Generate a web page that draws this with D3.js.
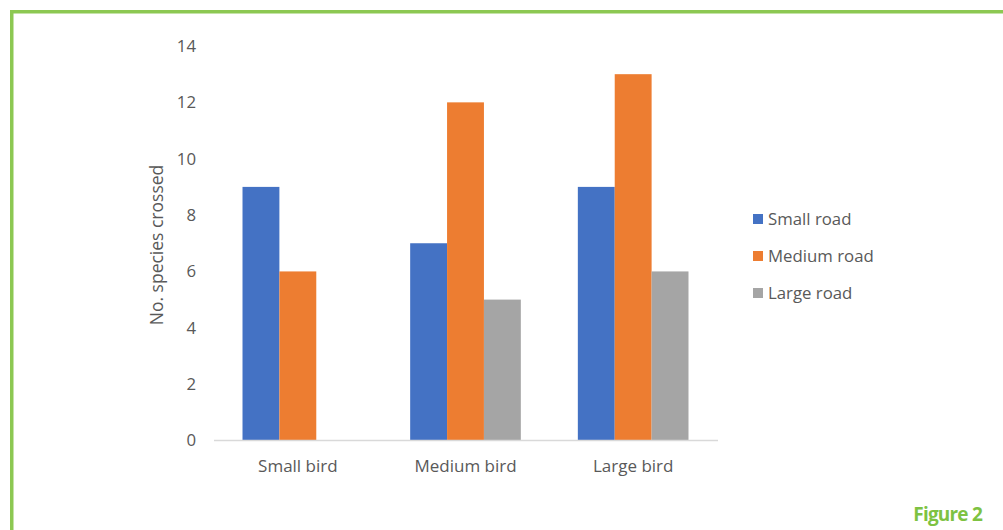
<!DOCTYPE html>
<html>
<head>
<meta charset="utf-8">
<script src="https://cdn.jsdelivr.net/npm/d3@7"></script>
<style>
  body { margin: 0; background: #fff; }
  svg { display: block; }
</style>
</head>
<body>
<div id="chart"></div>
<script>
// chart data
const categories = ["Small bird", "Medium bird", "Large bird"];
const seriesNames = ["Small road", "Medium road", "Large road"];
const smallRoad = [9, 7, 9];
const mediumRoad = [6, 12, 13];
const largeRoad = [0, 5, 6];
const yTicks = [0, 2, 4, 6, 8, 10, 12, 14];

const colors = ["#4472c4", "#ed7d31", "#a5a5a5"];
const width = 1003, height = 530;
const font = "'Open Sans', 'Noto Sans', sans-serif";

let svg = d3.select("#chart").append("svg")
    .attr("width", width)
    .attr("height", height);

// green frame (top and left only)
svg.append("rect").attr("x", 10).attr("y", 10).attr("width", width).attr("height", 3.5).attr("fill", "#8cc852");
svg.append("rect").attr("x", 10).attr("y", 10).attr("width", 3.5).attr("height", height).attr("fill", "#8cc852");

let x0 = d3.scaleBand()
    .domain(categories)
    .range([214, 717])
    .paddingInner(0.34)
    .paddingOuter(0.17);

let x1 = d3.scaleBand()
    .domain(seriesNames)
    .range([0, x0.bandwidth()]);

let y = d3.scaleLinear()
    .domain([0, 14])
    .range([440.5, 46]);

let rows = categories.map((c, i) => ({
    category: c,
    values: [smallRoad[i], mediumRoad[i], largeRoad[i]]
}));

// bars
let groups = svg.append("g")
    .selectAll("g")
    .data(rows)
    .enter()
    .append("g")
    .attr("transform", d => `translate(${x0(d.category)},0)`);

groups.selectAll("rect")
    .data(d => d.values.map((v, k) => ({series: seriesNames[k], value: v, k: k})))
    .enter()
    .append("rect")
    .attr("x", d => x1(d.series))
    .attr("y", d => y(d.value))
    .attr("width", x1.bandwidth())
    .attr("height", d => y(0) - y(d.value))
    .attr("fill", d => colors[d.k]);

// y axis labels
let yAxis = svg.append("g")
    .attr("transform", "translate(196,0)")
    .call(d3.axisLeft(y).tickValues(yTicks).tickSize(0).tickPadding(0));
yAxis.select(".domain").remove();
yAxis.selectAll("text")
    .attr("font-family", font)
    .attr("font-size", 16.8)
    .attr("fill", "#595959");

// baseline
svg.append("line")
    .attr("x1", 214).attr("x2", 718)
    .attr("y1", y(0)).attr("y2", y(0))
    .attr("stroke", "#d9d9d9")
    .attr("stroke-width", 1.5);

// x axis labels
let xAxis = svg.append("g")
    .attr("transform", `translate(0,${y(0)})`)
    .call(d3.axisBottom(x0).tickSize(0).tickPadding(19));
xAxis.select(".domain").remove();
xAxis.selectAll("text")
    .attr("font-family", font)
    .attr("font-size", 17)
    .attr("fill", "#595959");

// y axis title
svg.append("text")
    .attr("transform", "translate(163,245) rotate(-90)")
    .attr("text-anchor", "middle")
    .attr("font-family", font)
    .attr("font-size", 17.5)
    .attr("fill", "#595959")
    .text("No. species crossed");

// legend
let legend = svg.append("g")
    .selectAll("g")
    .data(seriesNames)
    .enter()
    .append("g")
    .attr("transform", (d, i) => `translate(753,${219 + i * 37})`);

legend.append("rect")
    .attr("x", 0).attr("y", -5)
    .attr("width", 10).attr("height", 10)
    .attr("fill", (d, i) => colors[i]);

legend.append("text")
    .attr("x", 15)
    .attr("y", 0)
    .attr("dy", "0.35em")
    .attr("font-family", font)
    .attr("font-size", 16.8)
    .attr("fill", "#595959")
    .text(d => d);

// figure caption
svg.append("text")
    .attr("x", 982)
    .attr("y", 521)
    .attr("text-anchor", "end")
    .attr("font-family", font)
    .attr("font-size", 19)
    .attr("font-weight", "bold")
    .attr("letter-spacing", -0.8)
    .attr("fill", "#7dc242")
    .text("Figure 2");
</script>
</body>
</html>
